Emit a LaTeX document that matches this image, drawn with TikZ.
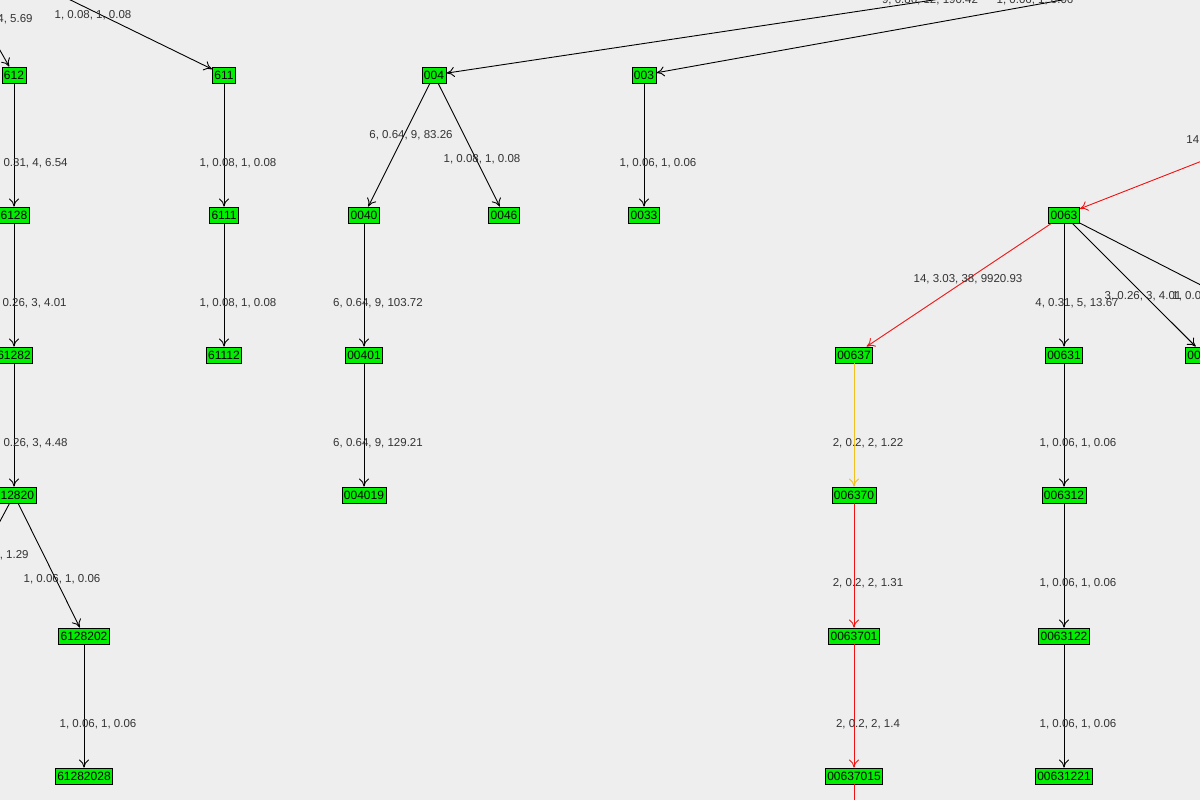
\documentclass[tikz,border=0pt]{standalone}
\usepackage{fontspec}
\setmainfont{Liberation Sans}
\usetikzlibrary{arrows.meta}
\definecolor{bg}{HTML}{EEEEEE}
\definecolor{vgreen}{HTML}{00EE00}
\definecolor{vred}{HTML}{EE1111}
\definecolor{vyellow}{HTML}{F0C020}

\tikzset{
  vertex/.style={draw,line width=0.9pt,fill=vgreen,inner xsep=2pt,inner ysep=1pt,minimum height=16pt,font=\fontsize{12}{13}\selectfont},
  edge/.style={-{To[length=8pt,width=10pt]},line width=0.9pt},
  lbl/.style={font=\fontsize{11.5}{13}\selectfont,text=black!80,inner sep=0pt},
}

\begin{document}
\begin{tikzpicture}[x=1pt,y=-1pt,line width=0.9pt]
  \useasboundingbox (0,0) rectangle (1200,800);
  \fill[bg] (0,0) rectangle (1200,800);
  \clip (0,0) rectangle (1200,800);

  % vertices
  \node[vertex] (612) at (14,75) {612};
  \node[vertex] (611) at (224,75) {611};
  \node[vertex] (004) at (434,75) {004};
  \node[vertex] (003) at (644,75) {003};
  \node[vertex] (6128) at (14,215) {6128};
  \node[vertex] (6111) at (224,215) {6111};
  \node[vertex] (0040) at (364,215) {0040};
  \node[vertex] (0046) at (504,215) {0046};
  \node[vertex] (0033) at (644,215) {0033};
  \node[vertex] (0063) at (1064,215) {0063};
  \node[vertex] (61282) at (14,355) {61282};
  \node[vertex] (61112) at (224,355) {61112};
  \node[vertex] (00401) at (364,355) {00401};
  \node[vertex] (00637) at (854,355) {00637};
  \node[vertex] (00631) at (1064,355) {00631};
  \node[vertex,anchor=west] (00632) at (1185,355) {00632};
  \node[vertex] (612820) at (14,495) {612820};
  \node[vertex] (004019) at (364,495) {004019};
  \node[vertex] (006370) at (854,495) {006370};
  \node[vertex] (006312) at (1064,495) {006312};
  \node[vertex] (6128202) at (84,636) {6128202};
  \node[vertex] (0063701) at (854,636) {0063701};
  \node[vertex] (0063122) at (1064,636) {0063122};
  \node[vertex] (61282028) at (84,776) {61282028};
  \node[vertex] (00637015) at (854,776) {00637015};
  \node[vertex] (00631221) at (1064,776) {00631221};

  % loose ends
  \coordinate (in612) at (-20,15);
  \coordinate (in611) at (50,-10);
  \coordinate (in004) at (1000,-10);
  \coordinate (in003) at (1090,-5);
  \coordinate (in0063) at (1230,150);
  \coordinate (out0063) at (1230,300);
  \coordinate (out612820) at (-10,540);
  \coordinate (out00637015) at (854,810);

  % edges
  \draw[edge] (in612) -- (612);
  \draw[edge] (in611) -- (611);
  \draw[edge] (in004) -- (004);
  \draw[edge] (in003) -- (003);
  \draw[edge,vred] (in0063) -- (0063);
  \draw[edge] (612) -- (6128);
  \draw[edge] (6128) -- (61282);
  \draw[edge] (61282) -- (612820);
  \draw (612820) -- (out612820);
  \draw[edge] (612820) -- (6128202);
  \draw[edge] (6128202) -- (61282028);
  \draw[edge] (611) -- (6111);
  \draw[edge] (6111) -- (61112);
  \draw[edge] (004) -- (0040);
  \draw[edge] (004) -- (0046);
  \draw[edge] (0040) -- (00401);
  \draw[edge] (00401) -- (004019);
  \draw[edge] (003) -- (0033);
  \draw[edge,vred] (0063) -- (00637);
  \draw[edge] (0063) -- (00631);
  \draw[edge] (0063) -- (00632);
  \draw (0063) -- (out0063);
  \draw[edge,vyellow] (00637) -- (006370);
  \draw[edge,vred] (006370) -- (0063701);
  \draw[edge,vred] (0063701) -- (00637015);
  \draw[vred] (00637015) -- (out00637015);
  \draw[edge] (00631) -- (006312);
  \draw[edge] (006312) -- (0063122);
  \draw[edge] (0063122) -- (00631221);

  % edge labels
  \node[lbl,anchor=east] (l612) at (33,19) {6, 0.44, 4, 5.69};
  \node[lbl] (l611) at (93,15) {1, 0.08, 1, 0.08};
  \node[lbl] (l004) at (930,0) {9, 0.86, 12, 190.42};
  \node[lbl] (l003) at (1035,0) {1, 0.06, 1, 0.06};
  \node[lbl,anchor=west] (l0063) at (1186,140) {14, 3.03, 38, 9920.93};
  \node[lbl,anchor=east] (l6128) at (68,163) {4, 0.31, 4, 6.54};
  \node[lbl,anchor=east] (l61282) at (67,303) {3, 0.26, 3, 4.01};
  \node[lbl,anchor=east] (l612820) at (68,443) {3, 0.26, 3, 4.48};
  \node[lbl,anchor=east] (lout612820) at (29,555) {2, 0.13, 2, 1.29};
  \node[lbl] (l6128202) at (62,579) {1, 0.06, 1, 0.06};
  \node[lbl] (l61282028) at (98,724) {1, 0.06, 1, 0.06};
  \node[lbl] (l6111) at (238,163) {1, 0.08, 1, 0.08};
  \node[lbl] (l61112) at (238,303) {1, 0.08, 1, 0.08};
  \node[lbl] (l0040) at (411,135) {6, 0.64, 9, 83.26};
  \node[lbl] (l0046) at (482,159) {1, 0.08, 1, 0.08};
  \node[lbl] (l00401) at (378,303) {6, 0.64, 9, 103.72};
  \node[lbl] (l004019) at (378,443) {6, 0.64, 9, 129.21};
  \node[lbl] (l0033) at (658,163) {1, 0.06, 1, 0.06};
  \node[lbl] (l00637) at (968,279) {14, 3.03, 38, 9920.93};
  \node[lbl] (l00631) at (1077,303) {4, 0.31, 5, 13.67};
  \node[lbl] (l00632) at (1143,296) {3, 0.26, 3, 4.01};
  \node[lbl,anchor=west] (lout0063) at (1172,296) {1, 0.06, 1, 0.06};
  \node[lbl] (l006370) at (868,443) {2, 0.2, 2, 1.22};
  \node[lbl] (l0063701) at (868,583) {2, 0.2, 2, 1.31};
  \node[lbl] (l00637015) at (868,724) {2, 0.2, 2, 1.4};
  \node[lbl] (l006312) at (1078,443) {1, 0.06, 1, 0.06};
  \node[lbl] (l0063122) at (1078,583) {1, 0.06, 1, 0.06};
  \node[lbl] (l00631221) at (1078,724) {1, 0.06, 1, 0.06};
\end{tikzpicture}
\end{document}
